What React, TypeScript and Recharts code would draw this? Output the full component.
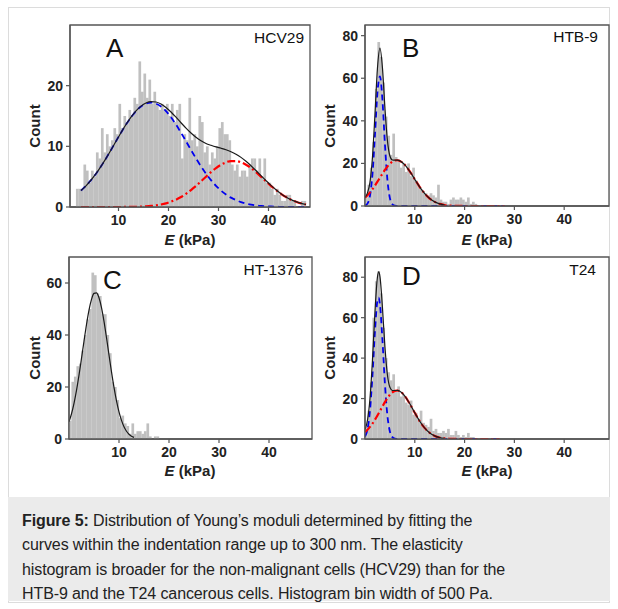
import React from 'react';
import { ComposedChart, Bar, Line, XAxis, YAxis, ReferenceArea } from 'recharts';

const FONT = '"Liberation Sans", Arial, Helvetica, sans-serif';
const AXIS = '#555555';
const INK = '#222222';

// histogram bin width: 500 Pa = 0.5 kPa
const BIN = 0.5;
const xTicks = [10, 20, 30, 40];

// ---- A: HCV29 ----
const histStartA = 1.5;
const countsA = [
  3, 3, 3, 7, 6, 4, 6, 5, 9, 8,
  13, 9, 12, 10, 11, 13, 12, 17, 13, 15,
  14, 16, 15, 18, 17, 24, 19, 22, 18, 21,
  17, 19, 17, 16, 17, 16, 17, 15, 17, 14,
  16, 17, 8, 12, 11, 18, 11, 12, 10, 15,
  14, 9, 10, 7, 9, 8, 10, 13, 14, 12,
  12, 11, 7, 6, 7, 5, 6, 6, 5, 7,
  8, 8, 6, 8, 5, 8, 4, 4, 3, 2,
  3, 2, 1, 1, 2, 2, 1, 1, 0, 0,
  1, 1,
];
const fitXA = [
  2.5, 3.5, 4.5, 5.5, 6.5, 7.5, 8.5, 9.5, 10.5, 11.5, 12.5, 13.5, 14.5, 15.5, 16.5, 17.5,
  18.5, 19.5, 20.5, 21.5, 22.5, 23.5, 24.5, 25.5, 26.5, 27.5, 28.5, 29.5, 30.5, 31.5, 32.5,
  33.5, 34.5, 35.5, 36.5, 37.5, 38.5, 39.5, 40.5, 41.5, 42.5, 43.5, 44.5, 45.5, 46.5, 47.5,
];
const blueA = [
  2.71, 3.49, 4.43, 5.49, 6.7, 8.01, 9.4, 10.84, 12.25, 13.59, 14.79, 15.8, 16.56, 17.04, 17.2,
  17.04, 16.56, 15.8, 14.79, 13.59, 12.25, 10.84, 9.4, 8.01, 6.7, 5.49, 4.43, 3.49, 2.71, 2.06,
  1.54, 1.13, 0.81, 0.57, 0.4, 0.27, 0.18, 0.12, 0.08, 0.05, 0.03, 0.02, 0.01, 0.01, 0, 0,
];
const redA = [
  0, 0, 0, 0, 0, 0, 0, 0, 0, 0.01, 0.02, 0.04,
  0.07, 0.11, 0.17, 0.27, 0.41, 0.6, 0.87, 1.21, 1.64, 2.17, 2.8, 3.48, 4.23, 4.99, 5.74, 6.41,
  6.97, 7.37, 7.57, 7.57, 7.37, 6.97, 6.41, 5.74, 4.99, 4.23, 3.48, 2.8, 2.17, 1.64, 1.21, 0.87,
  0.6, 0.41,
];
const blackA = [
  2.71, 3.49, 4.43, 5.49, 6.7, 8.01, 9.4, 10.84, 12.25, 13.6, 14.81, 15.84, 16.63, 17.15, 17.37,
  17.31, 16.97, 16.4, 15.66, 14.8, 13.89, 13.01, 12.2, 11.49, 10.93, 10.48, 10.17, 9.9, 9.68,
  9.43, 9.11, 8.7, 8.18, 7.54, 6.81, 6.01, 5.17, 4.35, 3.56, 2.85, 2.2, 1.66, 1.22, 0.88, 0.6,
  0.41,
];

// ---- B: HTB-9 ----
const histStartB = 0;
const countsB = [
  5, 10, 18, 30, 55, 77, 70, 58, 42, 33,
  24, 34, 23, 22, 18, 20, 16, 20, 14, 18,
  12, 10, 8, 7, 6, 5, 6, 5, 4, 10,
  3, 2, 2, 1, 3, 4, 3, 3, 4, 3,
  2, 4, 1, 2, 1,
];
const fitXB = [
  0, 0.5, 1, 1.5, 2, 2.5, 3, 3.5, 4, 4.5, 5, 5.5, 6, 6.5, 7, 8, 9, 10, 11, 12, 13, 14, 15, 16,
  17, 18, 19, 20, 21, 22, 23, 24, 25, 26, 27, 28,
];
const blueB = [
  0.18, 1.12, 4.84, 15.0, 33.4, 53.3, 60.9, 49.9, 29.2, 12.3, 3.71, 0.8, 0.12, 0.01,
  0, 0, 0, 0, 0, 0, 0, 0, 0, 0, 0, 0, 0, 0, 0, 0, 0, 0, 0, 0, 0, 0,
];
const redB = [
  3.9, 5.04, 6.38, 7.91, 9.6, 11.41, 13.28, 15.14, 16.91, 18.5, 19.81, 20.79, 21.36, 21.49,
  21.18, 19.32, 16.22, 12.53, 8.9, 5.82, 3.5, 1.94, 0.99, 0.46, 0.2, 0.08, 0.03, 0.01,
  0, 0, 0, 0, 0, 0, 0, 0,
];
const blackB = [
  4.08, 6.16, 11.22, 22.91, 43.0, 64.7, 74.2, 65.0, 46.1, 30.8, 23.5, 21.6, 21.5, 21.5,
  21.18, 19.32, 16.22, 12.53, 8.9, 5.82, 3.5, 1.94, 0.99, 0.46,
];

// ---- C: HT-1376 ----
const histStartC = 0;
const countsC = [
  7, 22, 24, 28, 29, 34, 40, 46, 50, 64,
  63, 56, 55, 48, 48, 40, 33, 22, 20, 15,
  8, 9, 6, 5, 2, 6, 2, 3, 3, 2,
  3, 6, 1, 0, 1, 1,
];
const fitXC = [
  0, 0.5, 1, 1.5, 2, 2.5, 3, 3.5, 4, 4.5, 5, 5.5, 6, 6.5, 7, 7.5, 8, 8.5, 9, 9.5, 10, 10.5, 11,
  11.5, 12, 12.5, 13,
];
const blackC = [
  6.6, 9.71, 13.74, 18.71, 24.55, 30.99, 37.65, 44.03, 49.57, 53.71, 56.01, 56.23, 54.33, 50.52,
  45.23, 38.97, 32.31, 25.8, 19.82, 14.65, 10.43, 7.15, 4.71, 2.99, 1.83, 1.07, 0.61,
];

// ---- D: T24 ----
const histStartD = 0;
const countsD = [
  6, 14, 28, 60, 78, 83, 72, 55, 40, 33,
  29, 32, 24, 26, 21, 22, 18, 17, 19, 12,
  13, 10, 14, 8, 7, 6, 10, 4, 5, 3,
  3, 4, 3, 5, 2, 2, 4, 2, 1, 2,
  1, 3, 1, 1,
];
const fitXD = [
  0, 0.5, 1, 1.5, 2, 2.5, 2.75, 3, 3.5, 4, 4.5, 5, 5.5, 6, 6.5, 7, 8, 9, 10, 11, 12, 13, 14, 15,
  16, 17, 18, 19, 20, 21, 22, 23, 24, 25, 26, 27,
];
const blueD = [
  1.22, 4.75, 14.06, 31.45, 53.32, 68.46, 69.9, 66.59, 49.06, 27.37, 11.57, 3.7, 0.9, 0.16, 0.02,
  0, 0, 0, 0, 0, 0, 0, 0, 0, 0, 0, 0, 0, 0, 0, 0, 0, 0, 0, 0, 0,
];
const redD = [
  3.41, 4.57, 5.99, 7.65, 9.55, 11.63, 12.73, 13.84, 16.08, 18.24, 20.21, 21.86, 23.09, 23.82,
  23.99, 23.59, 21.24, 17.4, 12.95, 8.76, 5.39, 3.01, 1.53, 0.71, 0.3, 0.11, 0.04, 0.01,
  0, 0, 0, 0, 0, 0, 0, 0,
];
const blackD = [
  4.63, 9.32, 20.05, 39.1, 62.87, 80.09, 82.63, 80.43, 65.14, 45.61, 31.78, 25.56, 23.99, 23.98,
  24.01, 23.59, 21.24, 17.4, 12.95, 8.76, 5.39, 3.01, 1.53, 0.71, 0.3,
];

type Pt = { e: number; v: number };

const toHist = (start: number, counts: number[]) =>
  counts.map((n, i) => ({ e: start + BIN * (i + 0.5), n }));
const toPts = (xs: number[], ys: number[]): Pt[] => ys.map((v, i) => ({ e: xs[i], v }));

interface PanelProps {
  left: number;
  top: number;
  width: number;
  height: number;
  xDomain: [number, number];
  yMax: number;
  yTicks: number[];
  hist: { e: number; n: number }[];
  blue?: Pt[];
  red?: Pt[];
  black: Pt[];
}

const Panel: React.FC<PanelProps> = ({ left, top, width, height, xDomain, yMax, yTicks, hist, blue, red, black }) => {
  const ml = 60, mt = 10, mr = 8, mb = 50;
  const barW = (width / (xDomain[1] - xDomain[0])) * BIN;
  const tickStyle = { fill: INK, fontSize: 14, fontFamily: FONT, fontWeight: 'bold' };
  // bars touch each other, like a real histogram: keep library x/y, widen to the full bin
  const binShape = (p: any) => {
    if (!p.height || p.height <= 0) return <g />;
    const cx = p.x + p.width / 2;
    return <rect x={cx - barW / 2} y={p.y} width={barW + 0.2} height={p.height} fill="#c0c0c0" />;
  };
  return (
    <div style={{ position: 'absolute', left: left - ml, top: top - mt }}>
      <ComposedChart
        width={width + ml + mr}
        height={height + mt + mb}
        data={hist}
        margin={{ top: mt, right: mr, bottom: 0, left: 0 }}
        barCategoryGap={0}
        barGap={0}
      >
        <XAxis
          type="number"
          dataKey="e"
          domain={xDomain}
          allowDataOverflow
          ticks={xTicks}
          height={mb}
          tickSize={4}
          tickMargin={4}
          axisLine={{ stroke: AXIS, strokeWidth: 1.3 }}
          tickLine={{ stroke: AXIS, strokeWidth: 1.2 }}
          tick={tickStyle}
        />
        <YAxis
          type="number"
          domain={[0, yMax]}
          allowDataOverflow
          ticks={yTicks}
          width={ml}
          tickSize={4}
          tickMargin={3}
          axisLine={{ stroke: AXIS, strokeWidth: 1.3 }}
          tickLine={{ stroke: AXIS, strokeWidth: 1.2 }}
          tick={tickStyle}
        />
        <Bar dataKey="n" fill="#c0c0c0" barSize={barW} shape={binShape} isAnimationActive={false} />
        {blue && (
          <Line data={blue} dataKey="v" type="monotone" stroke="#0000ee" strokeWidth={1.8}
            strokeDasharray="6 4" dot={false} activeDot={false} isAnimationActive={false} />
        )}
        {red && (
          <Line data={red} dataKey="v" type="monotone" stroke="#ff0000" strokeWidth={2.2}
            strokeDasharray="8 3 2 3" dot={false} activeDot={false} isAnimationActive={false} />
        )}
        <Line data={black} dataKey="v" type="monotone" stroke="#1a1a1a" strokeWidth={1.2}
          dot={false} activeDot={false} isAnimationActive={false} />
        <ReferenceArea x1={xDomain[0]} x2={xDomain[1]} y1={0} y2={yMax} fill="none"
          fillOpacity={0} stroke={AXIS} strokeWidth={1.3} />
      </ComposedChart>
    </div>
  );
};

const letter = { fontFamily: FONT, fontSize: 26, fill: '#111' };
const cell = { fontFamily: FONT, fontSize: 15.5, fill: '#111' };
const axisLabel = { fontFamily: FONT, fontSize: 15, fill: INK, fontWeight: 'bold' as const };

const CountLabel = ({ x, y }: { x: number; y: number }) => (
  <text x={x} y={y} textAnchor="middle" transform={`rotate(-90, ${x}, ${y})`} style={axisLabel}>Count</text>
);
const ELabel = ({ x, y }: { x: number; y: number }) => (
  <text x={x} y={y} textAnchor="middle" style={axisLabel}>
    <tspan fontStyle="italic">E</tspan> (kPa)
  </text>
);

const captionLines = [
  'Distribution of Young’s moduli determined by fitting the',
  'curves within the indentation range up to 300 nm. The elasticity',
  'histogram is broader for the non-malignant cells (HCV29) than for the',
  'HTB-9 and the T24 cancerous cells. Histogram bin width of 500 Pa.',
];

export default function App() {
  return (
    <div style={{ position: 'absolute', left: 0, top: 0, width: 618, height: 609, background: '#fff' }}>
      <div style={{ position: 'absolute', left: 8, top: 7, width: 602, height: 596, border: '1px solid #dcdcdc', boxSizing: 'border-box' }} />

      <Panel left={70} top={25} width={240} height={182} xDomain={[0.3, 48.3]} yMax={30} yTicks={[0, 10, 20]}
        hist={toHist(histStartA, countsA)} blue={toPts(fitXA, blueA)} red={toPts(fitXA, redA)} black={toPts(fitXA, blackA)} />
      <Panel left={365} top={25} width={244} height={181} xDomain={[0, 49]} yMax={85} yTicks={[0, 20, 40, 60, 80]}
        hist={toHist(histStartB, countsB)} blue={toPts(fitXB, blueB)} red={toPts(fitXB, redB)} black={toPts(fitXB, blackB)} />
      <Panel left={69} top={257} width={243} height={182} xDomain={[0, 48.6]} yMax={70} yTicks={[0, 20, 40, 60]}
        hist={toHist(histStartC, countsC)} black={toPts(fitXC, blackC)} />
      <Panel left={365} top={257} width={244} height={182} xDomain={[0, 49]} yMax={90} yTicks={[0, 20, 40, 60, 80]}
        hist={toHist(histStartD, countsD)} blue={toPts(fitXD, blueD)} red={toPts(fitXD, redD)} black={toPts(fitXD, blackD)} />

      <svg width={618} height={609} style={{ position: 'absolute', left: 0, top: 0, pointerEvents: 'none' }}>
        <text x={106} y={57} style={letter}>A</text>
        <text x={402} y={57} style={letter}>B</text>
        <text x={103} y={289} style={letter}>C</text>
        <text x={402} y={285} style={letter}>D</text>
        <text x={304} y={43} textAnchor="end" style={cell}>HCV29</text>
        <text x={598} y={42} textAnchor="end" style={cell}>HTB-9</text>
        <text x={303} y={275} textAnchor="end" style={cell}>HT-1376</text>
        <text x={596} y={275} textAnchor="end" style={cell}>T24</text>
        <CountLabel x={40} y={126} />
        <CountLabel x={335} y={126} />
        <CountLabel x={40} y={358} />
        <CountLabel x={335} y={358} />
        <ELabel x={190} y={245} />
        <ELabel x={487} y={245} />
        <ELabel x={190} y={476} />
        <ELabel x={487} y={476} />
      </svg>

      <div style={{
        position: 'absolute', left: 8, top: 497, width: 602, height: 104, boxSizing: 'border-box',
        background: '#ebebeb', padding: '12px 14px 0', fontFamily: FONT, fontSize: 16, lineHeight: '24.4px',
        letterSpacing: '-0.1px', color: INK, whiteSpace: 'nowrap',
      }}>
        {captionLines.map((line, i) => (
          <div key={i}>
            {i === 0 && <b>Figure 5: </b>}
            {line}
          </div>
        ))}
      </div>
    </div>
  );
}
